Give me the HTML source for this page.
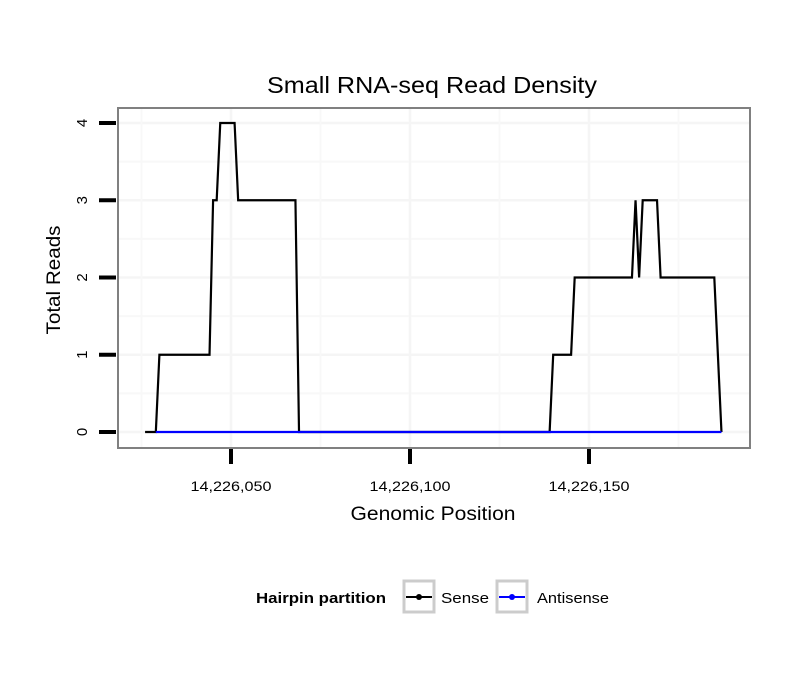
<!DOCTYPE html>
<html><head><meta charset="utf-8"><style>
body{margin:0;background:#fff}
svg text{font-family:"Liberation Sans",sans-serif}
</style></head><body>
<svg id="chart" width="810" height="690" xmlns="http://www.w3.org/2000/svg">
<rect width="810" height="690" fill="#fff"/>
<text x="432" y="93" font-size="23" text-anchor="middle" textLength="330" lengthAdjust="spacingAndGlyphs">Small RNA-seq Read Density</text>
<g id="grid"></g>
<g id="series"></g>
<rect x="118" y="108" width="632" height="340" fill="none" stroke="#808080" stroke-width="2"/>
<g id="axes"></g>
<text x="433" y="520" font-size="19" text-anchor="middle" textLength="165" lengthAdjust="spacingAndGlyphs">Genomic Position</text>
<text transform="translate(60,280) rotate(-90)" font-size="19" text-anchor="middle" textLength="109" lengthAdjust="spacingAndGlyphs">Total Reads</text>
<g>
<text x="256" y="603" font-size="15" font-weight="bold" textLength="130" lengthAdjust="spacingAndGlyphs">Hairpin partition</text>
<g>
<rect x="404" y="581" width="30" height="31" fill="#fff" stroke="#ccc" stroke-width="3"/>
<line x1="406" y1="597" x2="432" y2="597" stroke="#000" stroke-width="2"/>
<circle cx="419" cy="597" r="3" fill="#000"/>
<text x="441" y="603" font-size="15" textLength="48" lengthAdjust="spacingAndGlyphs">Sense</text>
</g>
<g>
<rect x="497" y="581" width="30" height="31" fill="#fff" stroke="#ccc" stroke-width="3"/>
<line x1="499" y1="597" x2="525" y2="597" stroke="#00f" stroke-width="2"/>
<circle cx="512" cy="597" r="3" fill="#00f"/>
<text x="537" y="603" font-size="15" textLength="72" lengthAdjust="spacingAndGlyphs">Antisense</text>
</g>
</g>
</svg>
<script>
const sensePos = [26,29,30,44,45,46,47,51,52,68,69,139,140,145,146,162,163,164,165,169,170,185,187];
const senseVals = [0,0,1,1,3,3,4,4,3,3,0,0,1,1,2,2,3,2,3,3,2,2,0];
const antisensePos = [29,187];
const antisenseVals = [0,0];
const xTicks = [50,100,150];
const xTickLabels = ["14,226,050","14,226,100","14,226,150"];
const yTicks = [0,1,2,3,4];

const NS = "http://www.w3.org/2000/svg";
const sx = p => 231 + (p - 50) * 3.58;
const sy = v => 432 - v * 77.25;
function mk(tag, attrs, parent){const e=document.createElementNS(NS,tag);for(const k in attrs)e.setAttribute(k,attrs[k]);parent.appendChild(e);return e;}
const grid=document.getElementById('grid'), series=document.getElementById('series'), axes=document.getElementById('axes');
mk('rect',{x:118,y:108,width:632,height:340,fill:'#fff'},grid);
for(let v=-0.5; v<=4.5; v+=0.5){const y=sy(v); if(y<109||y>447) continue;
  const l=mk('line',{x1:119,x2:749,y1:y,y2:y,stroke:v%1===0?'#f5f5f5':'#f8f8f8','stroke-width':v%1===0?2.5:2},grid);
  
  }
for(let p=25;p<=200;p+=25){const x=sx(p); if(x<119||x>749) continue;
  const l=mk('line',{x1:x,x2:x,y1:109,y2:447,stroke:p%50===0?'#f5f5f5':'#f8f8f8','stroke-width':p%50===0?2.5:2},grid);
  
  }
const sense=mk('polyline',{points:sensePos.map((p,i)=>sx(p)+','+sy(senseVals[i])).join(' '),fill:'none',stroke:'#000','stroke-width':2.2},series);


const anti=mk('polyline',{points:antisensePos.map((p,i)=>sx(p)+','+sy(antisenseVals[i])).join(' '),fill:'none',stroke:'#00f','stroke-width':2.2},series);


xTicks.forEach((p,i)=>{const x=sx(p);
  const t=mk('line',{x1:x,x2:x,y1:449,y2:464,stroke:'#000','stroke-width':4},axes);
  
  
  const tx=mk('text',{x:x,y:491,'font-size':14,'text-anchor':'middle',textLength:81,lengthAdjust:'spacingAndGlyphs'},axes);tx.textContent=xTickLabels[i];
  
  });
yTicks.forEach(v=>{const y=sy(v);
  const t=mk('line',{x1:99,x2:116,y1:y,y2:y,stroke:'#000','stroke-width':4},axes);
  
  
  const tx=mk('text',{transform:`translate(87,${y}) rotate(-90)`,'font-size':15,'text-anchor':'middle'},axes);tx.textContent=v;
  
  });
</script>
</body></html>
